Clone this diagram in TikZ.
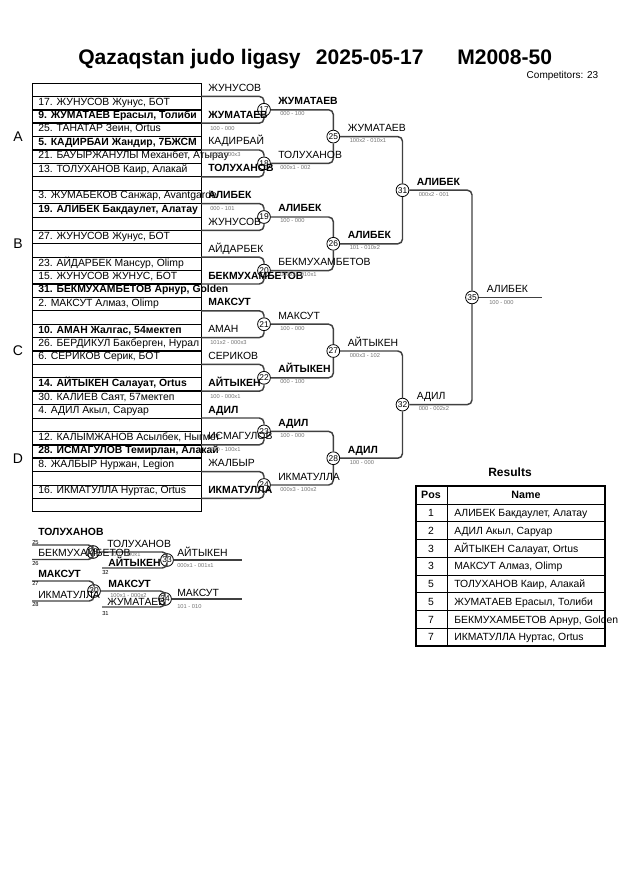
\documentclass[tikz,border=0pt]{standalone}
\usepackage{fontspec}
\setmainfont{Liberation Sans}
\usepackage{tikz}

\begin{document}
\begin{tikzpicture}[x=0.75pt, y=-0.75pt,
	ent/.style={anchor=base west, inner sep=0pt, font=\fontsize{7.8}{9}\selectfont},
	went/.style={ent, font=\fontsize{7.8}{9}\selectfont\bfseries},
	score/.style={anchor=base west, inner sep=0pt, text=black!55, font=\fontsize{4.3}{5}\selectfont},
	src/.style={anchor=base west, inner sep=0pt, font=\fontsize{4.3}{5}\selectfont},
	bout/.style={circle, draw, fill=white, line width=0.6pt, inner sep=0pt, minimum size=9.6pt, font=\fontsize{6.3}{7}\selectfont},
	brk/.style={draw=black!75, line width=1.1pt, rounded corners=3.5pt},
	gridln/.style={line width=0.5pt},
	gridbold/.style={line width=1.3pt}]
	\useasboundingbox (0,0) rectangle (630,891);
	
	% Title
	\node[anchor=base west, inner sep=0pt, font=\fontsize{15.8}{18}\selectfont\bfseries] at (78,65) (title) {Qazaqstan judo ligasy};
	\node[anchor=base west, inner sep=0pt, font=\fontsize{15.8}{18}\selectfont\bfseries] at (315.6,65) (tdate) {2025-05-17};
	\node[anchor=base west, inner sep=0pt, font=\fontsize{15.8}{18}\selectfont\bfseries] at (457,65) (tcat) {M2008-50};
	\node[anchor=base east, inner sep=0pt, font=\fontsize{7.5}{9}\selectfont] at (598.5,79) (ncomp) {Competitors: 23};
	
	% Draw list of competitors
	\draw[gridln] (32,83) rectangle (201,511.8);
	\foreach \b in {1,7,8,10,11,12,13,17,18,21,22,25,26,29,30,31}
		\draw[gridln] (32,{83+\b*13.4}) -- (201,{83+\b*13.4});
	\foreach \b in {2,3,4,5,6,9,14,15,16,19,20,23,24,27,28}
		\draw[gridbold] (32,{83+\b*13.4}) -- (201,{83+\b*13.4});
	
	\node[font=\fontsize{10.5}{12}\selectfont] at (18,136.6) (poolA) {A};
	\node[font=\fontsize{10.5}{12}\selectfont] at (18,243.8) (poolB) {B};
	\node[font=\fontsize{10.5}{12}\selectfont] at (18,351) (poolC) {C};
	\node[font=\fontsize{10.5}{12}\selectfont] at (18,458.2) (poolD) {D};
	
	\node[ent] at (38,105.2) (e2) {17. ЖУНУСОВ Жунус, БОТ};
	\node[went] at (38,118.6) (e3) {9. ЖУМАТАЕВ Ерасыл, Толиби};
	\node[ent] at (38,132) (e4) {25. ТАНАТАР Зеин, Ortus};
	\node[went] at (38,145.4) (e5) {5. КАДИРБАИ Жандир, 7БЖСМ};
	\node[ent] at (38,158.8) (e6) {21. БАУЫРЖАНУЛЫ Механбет, Атырау};
	\node[ent] at (38,172.2) (e7) {13. ТОЛУХАНОВ Каир, Алакай};
	\node[ent] at (38,199) (e9) {3. ЖУМАБЕКОВ Санжар, Avantgarde};
	\node[went] at (38,212.4) (e10) {19. АЛИБЕК Бакдаулет, Алатау};
	\node[ent] at (38,239.2) (e12) {27. ЖУНУСОВ Жунус, БОТ};
	\node[ent] at (38,266) (e14) {23. АЙДАРБЕК Мансур, Olimp};
	\node[ent] at (38,279.4) (e15) {15. ЖУНУСОВ ЖУНУС, БОТ};
	\node[went] at (38,292.8) (e16) {31. БЕКМУХАМБЕТОВ Арнур, Golden};
	\node[ent] at (38,306.2) (e17) {2. МАКСУТ Алмаз, Olimp};
	\node[went] at (38,333) (e19) {10. АМАН Жалгас, 54мектеп};
	\node[ent] at (38,346.4) (e20) {26. БЕРДИКУЛ Бакберген, Нурал};
	\node[ent] at (38,359.8) (e21) {6. СЕРИКОВ Серик, БОТ};
	\node[went] at (38,386.6) (e23) {14. АЙТЫКЕН Салауат, Ortus};
	\node[ent] at (38,400) (e24) {30. КАЛИЕВ Саят, 57мектеп};
	\node[ent] at (38,413.4) (e25) {4. АДИЛ Акыл, Саруар};
	\node[ent] at (38,440.2) (e27) {12. КАЛЫМЖАНОВ Асылбек, Ныгмет};
	\node[went] at (38,453.6) (e28) {28. ИСМАГУЛОВ Темирлан, Алакай};
	\node[ent] at (38,467) (e29) {8. ЖАЛБЫР Нуржан, Legion};
	\node[ent] at (38,493.8) (e31) {16. ИКМАТУЛЛА Нуртас, Ortus};
	
	% Define pair lines and contests
	\coordinate (q1) at (201,96.4);
	\coordinate (q2) at (201,123.2);
	\coordinate (q3) at (201,150);
	\coordinate (q4) at (201,176.8);
	\coordinate (q5) at (201,203.6);
	\coordinate (q6) at (201,230.4);
	\coordinate (q7) at (201,257.2);
	\coordinate (q8) at (201,284);
	\coordinate (q9) at (201,310.8);
	\coordinate (q10) at (201,337.6);
	\coordinate (q11) at (201,364.4);
	\coordinate (q12) at (201,391.2);
	\coordinate (q13) at (201,418);
	\coordinate (q14) at (201,444.8);
	\coordinate (q15) at (201,471.6);
	\coordinate (q16) at (201,498.4);
	
	\node[bout] at (264,109.8) (m17) {17};
	\node[bout] at (264,163.4) (m18) {18};
	\node[bout] at (264,217) (m19) {19};
	\node[bout] at (264,270.6) (m20) {20};
	\node[bout] at (264,324.2) (m21) {21};
	\node[bout] at (264,377.8) (m22) {22};
	\node[bout] at (264,431.4) (m23) {23};
	\node[bout] at (264,485) (m24) {24};
	\node[bout] at (333.3,136.6) (m25) {25};
	\node[bout] at (333.3,243.8) (m26) {26};
	\node[bout] at (333.3,351) (m27) {27};
	\node[bout] at (333.3,458.2) (m28) {28};
	\node[bout] at (402.5,190.2) (m31) {31};
	\node[bout] at (402.5,404.6) (m32) {32};
	\node[bout] at (472,297.4) (m35) {35};
	\coordinate (fin) at (542,297.4);
	
	% Draw brackets
	\draw[brk] (q1) -| (m17);
	\draw[brk] (q2) -| (m17);
	\draw[brk] (q3) -| (m18);
	\draw[brk] (q4) -| (m18);
	\draw[brk] (q5) -| (m19);
	\draw[brk] (q6) -| (m19);
	\draw[brk] (q7) -| (m20);
	\draw[brk] (q8) -| (m20);
	\draw[brk] (q9) -| (m21);
	\draw[brk] (q10) -| (m21);
	\draw[brk] (q11) -| (m22);
	\draw[brk] (q12) -| (m22);
	\draw[brk] (q13) -| (m23);
	\draw[brk] (q14) -| (m23);
	\draw[brk] (q15) -| (m24);
	\draw[brk] (q16) -| (m24);
	\draw[brk] (m17) -| (m25);
	\draw[brk] (m18) -| (m25);
	\draw[brk] (m19) -| (m26);
	\draw[brk] (m20) -| (m26);
	\draw[brk] (m21) -| (m27);
	\draw[brk] (m22) -| (m27);
	\draw[brk] (m23) -| (m28);
	\draw[brk] (m24) -| (m28);
	\draw[brk] (m25) -| (m31);
	\draw[brk] (m26) -| (m31);
	\draw[brk] (m27) -| (m32);
	\draw[brk] (m28) -| (m32);
	\draw[brk] (m31) -| (m35);
	\draw[brk] (m32) -| (m35);
	\draw[brk] (m35) -- (fin);
	
	% Names and scores, first column
	\node[ent] at (208,91.4) (n1) {ЖУНУСОВ};
	\node[went] at (208,118.2) (n2) {ЖУМАТАЕВ};
	\node[score] at (210,130.2) (s2) {100 - 000};
	\node[ent] at (208,145) (n3) {КАДИРБАЙ};
	\node[score] at (210,157) (s3) {100 - 000x3};
	\node[went] at (208,171.8) (n4) {ТОЛУХАНОВ};
	\node[went] at (208,198.6) (n5) {АЛИБЕК};
	\node[score] at (210,210.6) (s5) {000 - 101};
	\node[ent] at (208,225.4) (n6) {ЖУНУСОВ};
	\node[ent] at (208,252.2) (n7) {АЙДАРБЕК};
	\node[went] at (208,279) (n8) {БЕКМУХАМБЕТОВ};
	\node[went] at (208,305.8) (n9) {МАКСУТ};
	\node[ent] at (208,332.6) (n10) {АМАН};
	\node[score] at (210,344.6) (s10) {101x2 - 000x3};
	\node[ent] at (208,359.4) (n11) {СЕРИКОВ};
	\node[went] at (208,386.2) (n12) {АЙТЫКЕН};
	\node[score] at (210,398.2) (s12) {100 - 000x1};
	\node[went] at (208,413) (n13) {АДИЛ};
	\node[ent] at (208,439.8) (n14) {ИСМАГУЛОВ};
	\node[score] at (210,451.8) (s14) {000 - 100x1};
	\node[ent] at (208,466.6) (n15) {ЖАЛБЫР};
	\node[went] at (208,493.4) (n16) {ИКМАТУЛЛА};
	
	% Winners of the contests
	\node[went] at (278,104.8) (w17) {ЖУМАТАЕВ};
	\node[score] at (280,115.8) (x17) {000 - 100};
	\node[ent] at (278,158.4) (w18) {ТОЛУХАНОВ};
	\node[score] at (280,169.4) (x18) {000x1 - 002};
	\node[went] at (278,212) (w19) {АЛИБЕК};
	\node[score] at (280,223) (x19) {100 - 000};
	\node[ent] at (278,265.6) (w20) {БЕКМУХАМБЕТОВ};
	\node[score] at (280,276.6) (x20) {000x2 - 010x1};
	\node[ent] at (278,319.2) (w21) {МАКСУТ};
	\node[score] at (280,330.2) (x21) {100 - 000};
	\node[went] at (278,372.8) (w22) {АЙТЫКЕН};
	\node[score] at (280,383.8) (x22) {000 - 100};
	\node[went] at (278,426.4) (w23) {АДИЛ};
	\node[score] at (280,437.4) (x23) {100 - 000};
	\node[ent] at (278,480) (w24) {ИКМАТУЛЛА};
	\node[score] at (280,491) (x24) {000x3 - 100x2};
	
	\node[ent] at (347.5,131.6) (w25) {ЖУМАТАЕВ};
	\node[score] at (349.5,142.6) (x25) {100x2 - 010x1};
	\node[went] at (347.5,238.8) (w26) {АЛИБЕК};
	\node[score] at (349.5,249.8) (x26) {101 - 010x2};
	\node[ent] at (347.5,346) (w27) {АЙТЫКЕН};
	\node[score] at (349.5,357) (x27) {000x3 - 102};
	\node[went] at (347.5,453.2) (w28) {АДИЛ};
	\node[score] at (349.5,464.2) (x28) {100 - 000};
	
	\node[went] at (416.5,185.2) (w31) {АЛИБЕК};
	\node[score] at (418.5,196.2) (x31) {000x2 - 001};
	\node[ent] at (416.5,399.6) (w32) {АДИЛ};
	\node[score] at (418.5,410.6) (x32) {000 - 002x2};
	
	\node[ent] at (486.5,292.4) (w35) {АЛИБЕК};
	\node[score] at (489,304) (x35) {100 - 000};
	
	% Repechage
	\coordinate (r25) at (32,545);
	\coordinate (r26) at (32,559.5);
	\coordinate (r32) at (102,568);
	\coordinate (r27) at (32,581);
	\coordinate (r28) at (32,601);
	\coordinate (r31) at (102,607);
	\coordinate (f33) at (242,560);
	\coordinate (f34) at (242,599);
	\node[bout] at (93,552) (m29) {29};
	\node[bout] at (167,560) (m33) {33};
	\node[bout] at (94,591) (m30) {30};
	\node[bout] at (165,599) (m34) {34};
	
	\draw[brk] (r25) -| (m29);
	\draw[brk] (r26) -| (m29);
	\draw[brk] (m29) -| (m33);
	\draw[brk] (r32) -| (m33);
	\draw[brk] (m33) -- (f33);
	\draw[brk] (r27) -| (m30);
	\draw[brk] (r28) -| (m30);
	\draw[brk] (m30) -| (m34);
	\draw[brk] (r31) -| (m34);
	\draw[brk] (m34) -- (f34);
	
	\node[went] at (38,535.3) (rn25) {ТОЛУХАНОВ};
	\node[src] at (32,544) (rl25) {25};
	\node[ent] at (38,556.3) (rn26) {БЕКМУХАМБЕТОВ};
	\node[src] at (32,565.5) (rl26) {26};
	\node[ent] at (107,547.3) (rw29) {ТОЛУХАНОВ};
	\node[score] at (110,556.5) (rx29) {100 - 000x1};
	\node[went] at (108,566.5) (rn32) {АЙТЫКЕН};
	\node[src] at (102,574.5) (rl32) {32};
	\node[ent] at (177,556.5) (rw33) {АЙТЫКЕН};
	\node[score] at (177,567) (rx33) {000x1 - 001x1};
	
	\node[went] at (38,577) (rn27) {МАКСУТ};
	\node[src] at (32,585.5) (rl27) {27};
	\node[ent] at (38,598) (rn28) {ИКМАТУЛЛА};
	\node[src] at (32,606.5) (rl28) {28};
	\node[went] at (108,587) (rw30) {МАКСУТ};
	\node[score] at (110,597.5) (rx30) {100x1 - 000x2};
	\node[ent] at (107,605.5) (rn31) {ЖУМАТАЕВ};
	\node[src] at (102,615.5) (rl31) {31};
	\node[ent] at (177,596.5) (rw34) {МАКСУТ};
	\node[score] at (177,608) (rx34) {101 - 010};
	
	% Results
	\node[anchor=base, inner sep=0pt, font=\fontsize{9}{11}\selectfont\bfseries] at (510,476.7) (restitle) {Results};
	\draw[line width=1.3pt] (416,486) rectangle (605,646);
	\draw[gridln] (447,486) -- (447,646);
	\foreach \k in {0,...,7}
		\draw[gridln] (416,{504+\k*17.75}) -- (605,{504+\k*17.75});
	\node[anchor=base, inner sep=0pt, font=\fontsize{8}{9}\selectfont\bfseries] at (431,498.8) (hpos) {Pos};
	\node[anchor=base, inner sep=0pt, font=\fontsize{8}{9}\selectfont\bfseries] at (526,498.8) (hname) {Name};
	\node[ent, anchor=base] at (431,516.6) (p1) {1};
	\node[ent] at (454,516.6) (r1) {АЛИБЕК Бакдаулет, Алатау};
	\node[ent, anchor=base] at (431,534.3) (p2) {2};
	\node[ent] at (454,534.3) (r2) {АДИЛ Акыл, Саруар};
	\node[ent, anchor=base] at (431,552.1) (p3) {3};
	\node[ent] at (454,552.1) (r3) {АЙТЫКЕН Салауат, Ortus};
	\node[ent, anchor=base] at (431,569.8) (p4) {3};
	\node[ent] at (454,569.8) (r4) {МАКСУТ Алмаз, Olimp};
	\node[ent, anchor=base] at (431,587.6) (p5) {5};
	\node[ent] at (454,587.6) (r5) {ТОЛУХАНОВ Каир, Алакай};
	\node[ent, anchor=base] at (431,605.3) (p6) {5};
	\node[ent] at (454,605.3) (r6) {ЖУМАТАЕВ Ерасыл, Толиби};
	\node[ent, anchor=base] at (431,623.1) (p7) {7};
	\node[ent] at (454,623.1) (r7) {БЕКМУХАМБЕТОВ Арнур, Golden};
	\node[ent, anchor=base] at (431,640.8) (p8) {7};
	\node[ent] at (454,640.8) (r8) {ИКМАТУЛЛА Нуртас, Ortus};
\end{tikzpicture}
\end{document}
